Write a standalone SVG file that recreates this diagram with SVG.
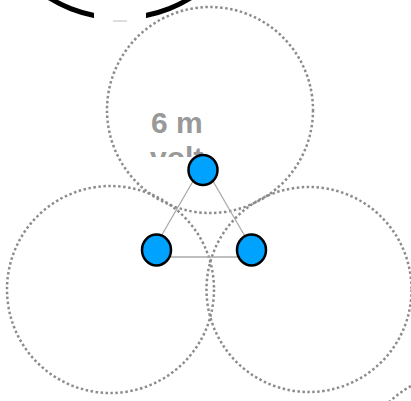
<svg xmlns="http://www.w3.org/2000/svg" width="411" height="401" viewBox="0 0 411 401">
<style>
.zone{fill:none;stroke:#8c8c8c;stroke-width:2.5;stroke-dasharray:2.5 2.5}
.node{fill:#00A2FF;stroke:#000;stroke-width:2.5}
.edge{stroke:#aaa;stroke-width:1.3;fill:none}
.lbl{font-family:"Liberation Sans",Arial,sans-serif;font-weight:bold;font-size:30px;fill:#999}
</style>
<defs>
<clipPath id="lclip"><rect x="140" y="100" width="66" height="57"/></clipPath>
</defs>
<rect width="411" height="401" fill="#fff"/>
<g id="top-ring">
<circle cx="120" cy="-116" r="134" fill="none" stroke="#000" stroke-width="5"/>
<rect x="94" y="0" width="52" height="24" fill="#fff"/>
<line x1="113" y1="21" x2="127" y2="21" stroke="#bbb" stroke-width="1"/>
</g>
<g id="zones">
<circle class="zone" cx="210" cy="110" r="103"/>
<circle class="zone" cx="110.5" cy="289.5" r="103.5"/>
<circle class="zone" cx="309" cy="289.5" r="102.5"/>
<circle class="zone" cx="461" cy="476" r="103"/>
</g>
<g id="label" clip-path="url(#lclip)">
<text class="lbl" x="151" y="133">6 m</text>
<text class="lbl" x="150" y="167.5">volt</text>
</g>
<g id="connectors">
<line class="edge" x1="203" y1="164" x2="149" y2="257"/>
<line class="edge" x1="203" y1="164" x2="257" y2="257"/>
<line class="edge" x1="149" y1="257" x2="257" y2="257"/>
</g>
<g id="node-top"><ellipse class="node" cx="203" cy="170" rx="14.5" ry="15"/></g>
<g id="node-left"><ellipse class="node" cx="156.5" cy="250" rx="14.5" ry="15.5"/></g>
<g id="node-right"><ellipse class="node" cx="251.5" cy="250" rx="14.5" ry="15.5"/></g>
</svg>
